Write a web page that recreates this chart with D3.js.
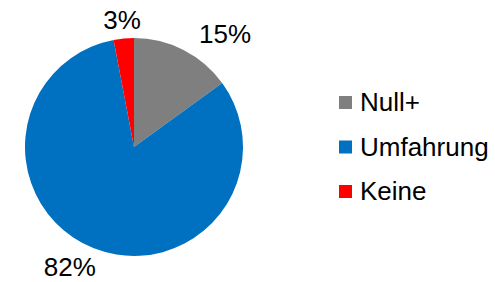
<!DOCTYPE html>
<html lang="de">
<head>
  <meta charset="UTF-8">
  <script src="https://cdn.jsdelivr.net/npm/d3@7"></script>
  <style>
    body { margin: 0; background: #fff; }
    text { font-family: "Liberation Sans", Arial, sans-serif; fill: #000; }
  </style>
</head>
<body>
  <svg></svg>
<script>
const width = 495;
const height = 282;

const categories = ['Null+', 'Umfahrung', 'Keine'];
const values = [15, 82, 3];
const labels = ['15%', '82%', '3%'];
const colors = ['#7f7f7f', '#0070c0', '#ff0000'];
// manual nudges so labels sit where the original has them
const labelNudge = [[33, 1], [-17, 1], [0, 0]];

const cx = 134;
const cy = 147;
const radius = 109;
const labelRadius = 128;

const svg = d3.select('svg').attr('width', width).attr('height', height);
const pieLayer = svg.append('g').attr('transform', `translate(${cx}, ${cy})`);
const legendLayer = svg.append('g').attr('transform', 'translate(339, 0)');

const series = categories.map((name, i) => ({
  name: name,
  value: values[i],
  label: labels[i],
  fill: colors[i],
  nudge: labelNudge[i]
}));

const pie = d3.pie().sort(null).value(d => d.value);
const arc = d3.arc().innerRadius(0).outerRadius(radius);
const labelArc = d3.arc().innerRadius(labelRadius).outerRadius(labelRadius);

const arcs = pie(series);

pieLayer.selectAll('path')
  .data(arcs)
  .enter()
  .append('path')
  .attr('d', arc)
  .attr('fill', d => d.data.fill);

pieLayer.selectAll('text')
  .data(arcs)
  .enter()
  .append('text')
  .attr('x', d => labelArc.centroid(d)[0] + d.data.nudge[0])
  .attr('y', d => labelArc.centroid(d)[1] + d.data.nudge[1])
  .attr('text-anchor', 'middle')
  .attr('dominant-baseline', 'central')
  .attr('font-size', 26)
  .text(d => d.data.label);

// legend
const legendY = d3.scalePoint().domain(categories).range([111, 200]);

const item = legendLayer.selectAll('g')
  .data(series)
  .enter()
  .append('g')
  .attr('transform', d => `translate(0, ${legendY(d.name)})`);

item.append('rect')
  .attr('x', 0)
  .attr('y', -15)
  .attr('width', 13)
  .attr('height', 13)
  .attr('fill', d => d.fill);

item.append('text')
  .attr('x', 21)
  .attr('y', 0)
  .attr('font-size', 26)
  .text(d => d.name);
</script>
</body>
</html>
